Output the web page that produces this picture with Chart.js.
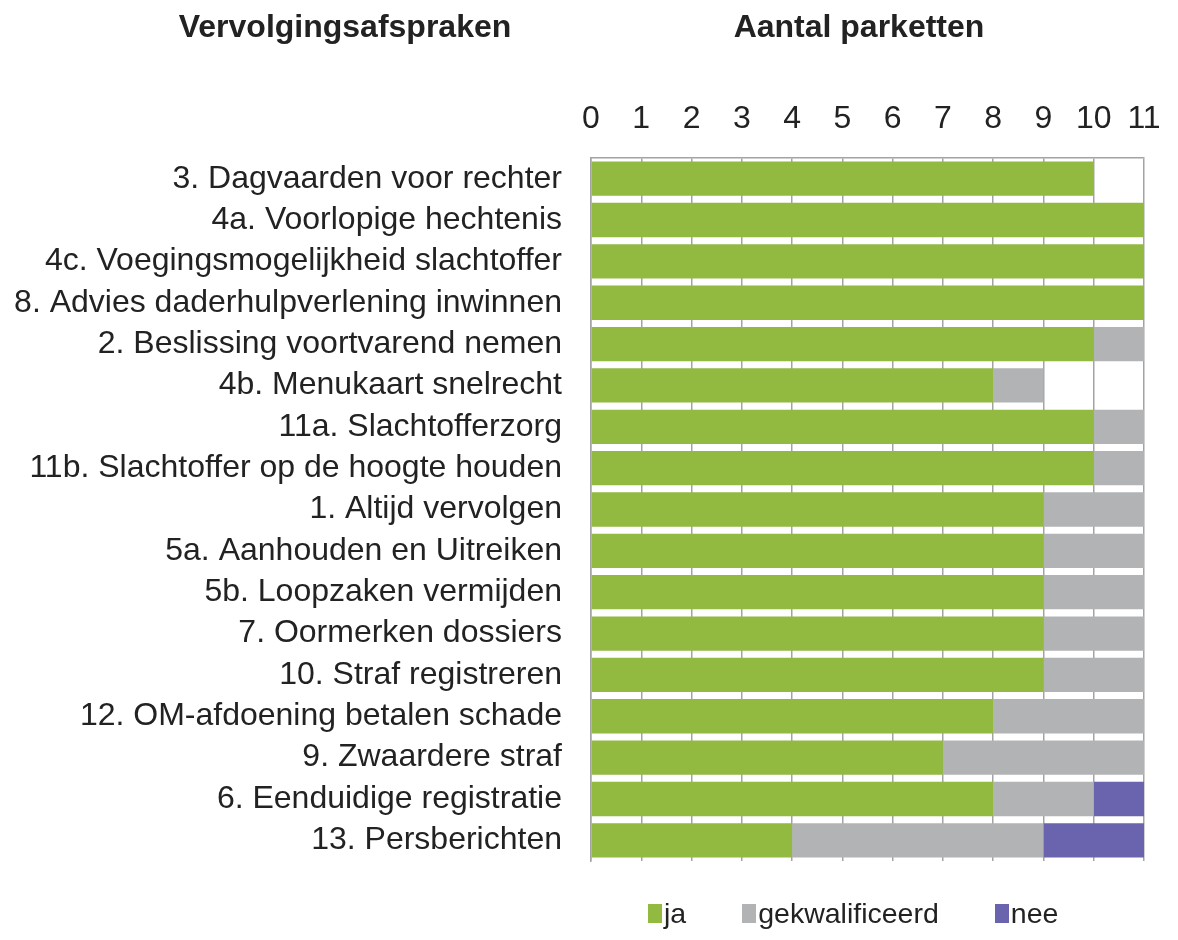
<!DOCTYPE html>
<html>
<head>
<meta charset="utf-8">
<script src="https://cdn.jsdelivr.net/npm/chart.js@4.4.0/dist/chart.umd.min.js"></script>
<style>
    body { margin: 0; background: #fff; font-family: "Liberation Sans", Arial, sans-serif; }
    .wrap { position: relative; width: 1178px; height: 940px; }
    .head { position: absolute; top: 8px; font-weight: bold; font-size: 32px; color: #222; transform: translateX(-50%); white-space: nowrap; }
    .legend { position: absolute; left: 648px; top: 897px; display: flex; gap: 56px; font-size: 28.5px; color: #222; }
    .legend span { display: flex; align-items: center; }
    .legend i { display: inline-block; width: 14px; height: 19px; margin-right: 2px; }
</style>
</head>
<body>
<div class="wrap">
    <canvas id="chart" width="1178" height="940"></canvas>
    <div class="head" style="left: 345px;">Vervolgingsafspraken</div>
    <div class="head" style="left: 859px;">Aantal parketten</div>
    <div class="legend" id="legend"></div>
</div>
<script>
// ========== DATA ==========
const afspraken = [
    '3. Dagvaarden voor rechter',
    '4a. Voorlopige hechtenis',
    '4c. Voegingsmogelijkheid slachtoffer',
    '8. Advies daderhulpverlening inwinnen',
    '2. Beslissing voortvarend nemen',
    '4b. Menukaart snelrecht',
    '11a. Slachtofferzorg',
    '11b. Slachtoffer op de hoogte houden',
    '1. Altijd vervolgen',
    '5a. Aanhouden en Uitreiken',
    '5b. Loopzaken vermijden',
    '7. Oormerken dossiers',
    '10. Straf registreren',
    '12. OM-afdoening betalen schade',
    '9. Zwaardere straf',
    '6. Eenduidige registratie',
    '13. Persberichten'
];
const ja = [10, 11, 11, 11, 10, 8, 10, 10, 9, 9, 9, 9, 9, 8, 7, 8, 4];
const gekwalificeerd = [0, 0, 0, 0, 1, 1, 1, 1, 2, 2, 2, 2, 2, 3, 4, 2, 5];
const nee = [0, 0, 0, 0, 0, 0, 0, 0, 0, 0, 0, 0, 0, 0, 0, 1, 2];
const seriesNames = ['ja', 'gekwalificeerd', 'nee'];
const seriesColors = ['#92b940', '#b2b3b5', '#6a63ad'];
const xMax = 11;

const font = { family: '"Liberation Sans", Arial, sans-serif', size: 32 };

const datasets = [ja, gekwalificeerd, nee].map((values, i) => ({
    label: seriesNames[i],
    data: values,
    backgroundColor: seriesColors[i],
    borderWidth: 0,
    barPercentage: 0.83,
    categoryPercentage: 1
}));

const ctx = document.getElementById('chart').getContext('2d');
new Chart(ctx, {
    type: 'bar',
    data: { labels: afspraken, datasets: datasets },
    options: {
        indexAxis: 'y',
        responsive: false,
        animation: false,
        events: [],
        layout: { padding: { left: 0, right: 34, top: 90, bottom: 79 } },
        plugins: {
            legend: { display: false },
            title: { display: false },
            tooltip: { enabled: false }
        },
        scales: {
            x: {
                position: 'top',
                stacked: true,
                min: 0,
                max: xMax,
                afterFit: (scale) => { scale.height = 68; },
                // invisible tick marks keep the labels off the plot without widening the side padding
                ticks: { stepSize: 1, color: '#222', font: font, padding: 0, maxRotation: 0 },
                grid: { color: '#a3a3a3', lineWidth: 1.5, drawTicks: true, tickLength: 20, tickColor: 'rgba(0,0,0,0)' },
                border: { display: true, color: '#a3a3a3', width: 1.5 }
            },
            y: {
                stacked: true,
                afterFit: (scale) => { scale.width = 591; },
                ticks: { color: '#222', font: font, padding: 29, autoSkip: false },
                grid: { display: false, drawTicks: false },
                border: { display: true, color: '#a3a3a3', width: 1.5 }
            }
        }
    }
});

// Legend
document.getElementById('legend').innerHTML = seriesNames.map((name, i) => `
    <span><i style="background: ${seriesColors[i]};"></i>${name}</span>
`).join('');
</script>
</body>
</html>
